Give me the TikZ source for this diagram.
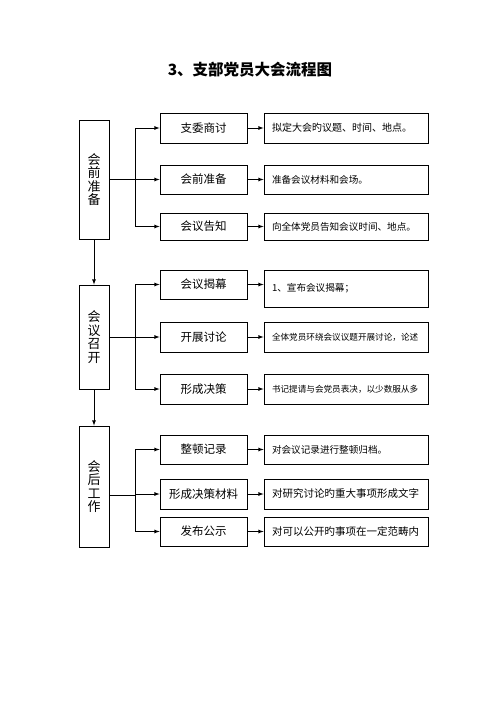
\documentclass[tikz,border=0pt]{standalone}
\usepackage{fontspec}
\setmainfont{Noto Sans CJK SC}
\newfontfamily\cjk{Noto Sans CJK SC}
\usepackage{tikz}

\begin{document}
\begin{tikzpicture}[x=1pt, y=-1pt, line width=.8pt,
  lbox/.style={draw, minimum width=30pt, inner sep=0pt, align=center, font=\fontsize{13}{13.5}\selectfont},
  mbox/.style={draw, minimum width=87pt, minimum height=29pt, inner sep=0pt, font=\fontsize{11.5}{12}\selectfont},
  rbox/.style={draw, minimum width=164pt, minimum height=29pt, text width=148pt, inner sep=0pt, align=left, font=\fontsize{9.6}{10}\selectfont},
  arr/.style={-latex}]
\useasboundingbox (0,0) rectangle (500,706);
\node [font=\cjk\bfseries\fontsize{15.5}{16}\selectfont] (title) at (250,70) {3、支部党员大会流程图};

\node [lbox, minimum height=119pt] (l1) at (94,179.5) {会\\前\\准\\备};
\node [lbox, minimum height=104pt] (l2) at (94,337) {会\\议\\召\\开};
\node [lbox, minimum height=121pt] (l3) at (94,486.5) {会\\后\\工\\作};

\node [mbox, minimum height=30pt] (m1) at (203.5,128) {支委商讨};
\node [mbox] (m2) at (203.5,179.5) {会前准备};
\node [mbox, minimum height=27pt] (m3) at (203.5,226.5) {会议告知};
\node [mbox] (m4) at (203.5,284.5) {会议揭幕};
\node [mbox, minimum height=30pt] (m5) at (203.5,337) {开展讨论};
\node [mbox, minimum height=30pt] (m6) at (203.5,389) {形成决策};
\node [mbox] (m7) at (203.5,449.5) {整顿记录};
\node [mbox, minimum height=30pt] (m8) at (203.5,494) {形成决策材料};
\node [mbox] (m9) at (203.5,531.5) {发布公示};

\node [rbox, minimum height=30pt, font=\fontsize{10}{10}\selectfont] (r1) at (346,128) {拟定大会旳议题、时间、地点。};
\node [rbox] (r2) at (346,179.5) {准备会议材料和会场。};
\node [rbox, minimum height=27pt] (r3) at (346,226.5) {向全体党员告知会议时间、地点。};
\node [rbox, minimum height=37pt] (r4) at (346,288.5) {1、宣布会议揭幕；};
\node [rbox, minimum height=30pt, font=\fontsize{8.6}{9}\selectfont] (r5) at (346,337) {全体党员环绕会议议题开展讨论，论述};
\node [rbox, minimum height=30pt, font=\fontsize{8.6}{9}\selectfont] (r6) at (346,389) {书记提请与会党员表决，以少数服从多};
\node [rbox] (r7) at (346,449.5) {对会议记录进行整顿归档。};
\node [rbox, minimum height=30pt, font=\fontsize{10.5}{11}\selectfont] (r8) at (346,494) {对研究讨论旳重大事项形成文字};
\node [rbox, font=\fontsize{10.5}{11}\selectfont] (r9) at (346,531.5) {对可以公开旳事项在一定范畴内};

\coordinate (j1) at (135,179.5);
\coordinate (j2) at (135,337);
\coordinate (j3) at (135,495);

% stages
\draw[arr] (l1) -- (l2);
\draw[arr] (l2) -- (l3);

% branches
\draw (l1) -- (j1);
\draw (l2) -- (j2);
\draw (l3.east |- j3) -- (j3);
\draw[arr] (j1) |- (m1);
\draw[arr] (j1) -- (m2);
\draw[arr] (j1) |- (m3);
\draw[arr] (j2) |- (m4);
\draw[arr] (j2) -- (m5);
\draw[arr] (j2) |- (m6);
\draw[arr] (j3) |- (m7);
\draw[arr] (j3) |- (m8);
\draw[arr] (j3) |- (m9);

\draw[arr] (m1) -- (r1);
\draw[arr] (m2) -- (r2);
\draw[arr] (m3) -- (r3);
\draw[arr] (m4.east) -- (m4.east -| r4.west);
\draw[arr] (m5) -- (r5);
\draw[arr] (m6) -- (r6);
\draw[arr] (m7) -- (r7);
\draw[arr] (m8) -- (r8);
\draw[arr] (m9) -- (r9);
\end{tikzpicture}
\end{document}
